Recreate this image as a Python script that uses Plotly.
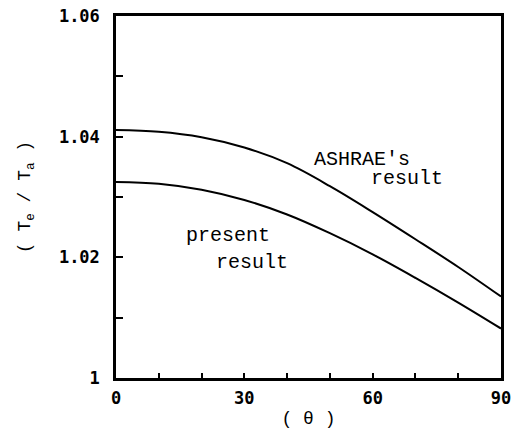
import plotly.graph_objects as go

theta = [0, 10, 20, 30, 40, 50, 60, 70, 80, 90]
ashrae = [1.0411, 1.0408, 1.0399, 1.0382, 1.0356, 1.0318, 1.0275, 1.0230, 1.0184, 1.0135]
present = [1.0325, 1.0322, 1.0312, 1.0295, 1.0271, 1.0240, 1.0205, 1.0166, 1.0125, 1.0082]

x_tickvals = [0, 10, 20, 30, 40, 50, 60, 70, 80, 90]
x_ticktext = ["0", " ", " ", "30", " ", " ", "60", " ", " ", "90"]
y_tickvals = [1.00, 1.01, 1.02, 1.03, 1.04, 1.05, 1.06]
y_ticktext = ["1", " ", "1.02", " ", "1.04", " ", "1.06"]

mono = "Liberation Mono"
tickfont = dict(family="DejaVu Sans Mono", size=17, color="black", weight="bold")

fig = go.Figure()
fig.add_trace(go.Scatter(x=theta, y=ashrae, mode="lines", line=dict(color="black", width=2, shape="spline"),
                         name="ASHRAE's result", showlegend=False))
fig.add_trace(go.Scatter(x=theta, y=present, mode="lines", line=dict(color="black", width=2, shape="spline"),
                         name="present result", showlegend=False))

fig.update_layout(
    template="none",
    width=517, height=421,
    margin=dict(l=108, r=24, t=8, b=51, autoexpand=False),
    paper_bgcolor="white", plot_bgcolor="white",
    xaxis=dict(range=[0, 90], tickvals=x_tickvals, ticktext=x_ticktext, ticks="inside", ticklen=5,
               tickwidth=2, tickcolor="black", showline=True, linecolor="black", linewidth=2.5,
               mirror=True, showgrid=False, zeroline=False, tickfont=tickfont, ticklabelstandoff=3,
               automargin=False, ticklabeloverflow="allow",
               title=dict(text="( θ )", font=dict(family=mono, size=18, color="black"), standoff=5)),
    yaxis=dict(range=[1.0, 1.06], tickvals=y_tickvals, ticktext=y_ticktext, ticks="inside", ticklen=7,
               tickwidth=2, tickcolor="black", showline=True, linecolor="black", linewidth=2.5,
               mirror=True, showgrid=False, zeroline=False, tickfont=tickfont, ticklabelstandoff=10,
               automargin=False, ticklabeloverflow="allow",
               title=dict(text="( T<sub>e</sub> / T<sub>a</sub> )", font=dict(family=mono, size=18, color="black"),
                          standoff=24)),
)

ann_font = dict(family=mono, size=20, color="black")
for txt, x, y in [("ASHRAE's", 45.8, 1.0362), ("result", 59.1, 1.0330),
                  ("present", 15.9, 1.0237), ("result", 22.9, 1.0192)]:
    fig.add_annotation(text=txt, x=x, y=y, xref="x", yref="y", xanchor="left", yanchor="middle",
                       showarrow=False, font=ann_font)

fig.write_html("out.html")
